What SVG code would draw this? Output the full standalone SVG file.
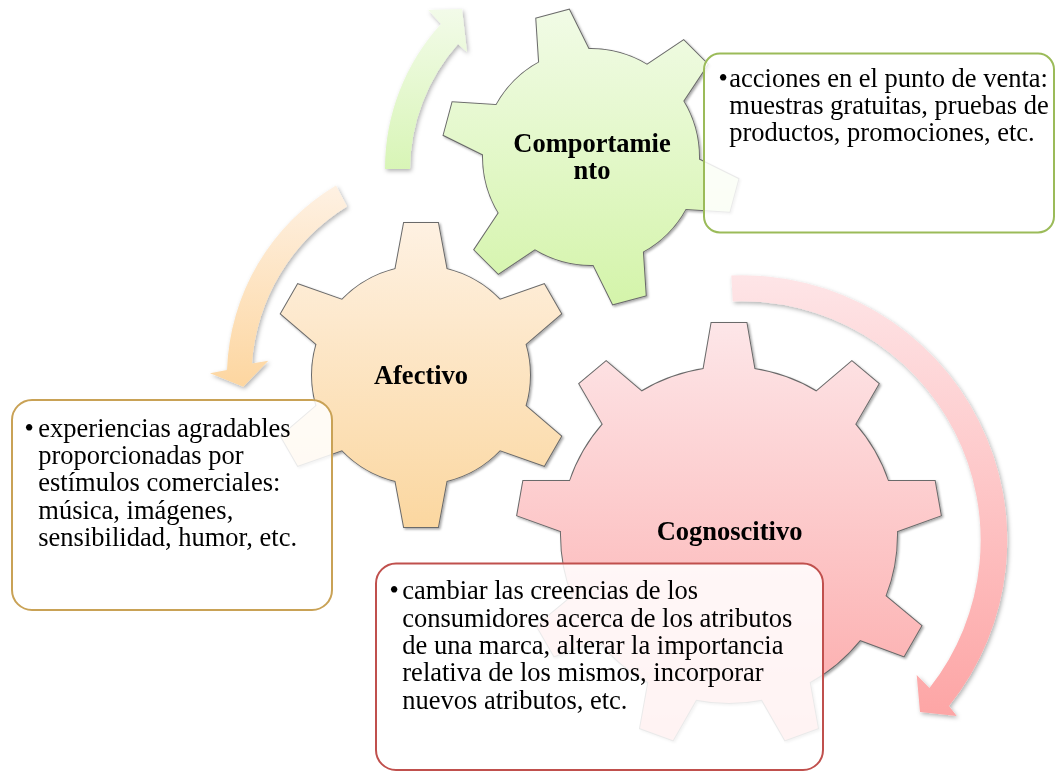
<svg xmlns="http://www.w3.org/2000/svg" xmlns:xlink="http://www.w3.org/1999/xlink" width="1055" height="772" viewBox="0 0 1055 772">
<style>
.lbl{font-family:"Liberation Serif","Times New Roman",serif;font-weight:bold;font-size:26.5px;fill:#000;text-anchor:middle}
.txt{font-family:"Liberation Serif","Times New Roman",serif;font-size:26.5px;fill:#000}
.outline{fill:#6a6a6a;stroke:#6a6a6a;stroke-width:2;filter:url(#gshadow)}
.box{fill:#fff;fill-opacity:0.86;stroke-width:2}
.arrow{filter:url(#ashadow)}
</style>
<defs>
<filter id="gshadow" x="-10%" y="-10%" width="125%" height="125%">
<feDropShadow dx="1.5" dy="1.5" stdDeviation="1.2" flood-color="#000" flood-opacity="0.35"/>
</filter>
<filter id="ashadow" x="-10%" y="-10%" width="125%" height="125%">
<feDropShadow dx="1.5" dy="2" stdDeviation="2" flood-color="#000" flood-opacity="0.3"/>
</filter>
<polygon id="tG" points="-26.6,-100 -17,-148 17,-148 26.6,-100"/>
<polygon id="tO" points="-26.5,-101 -17,-152 17,-152 26.5,-101"/>
<polygon id="tP" points="-26.5,-160 -17.5,-212 17.5,-212 26.5,-160"/>
<linearGradient id="gG" gradientUnits="userSpaceOnUse" x1="0" y1="9" x2="0" y2="305">
<stop offset="0" stop-color="#f1fbe6"/><stop offset="1" stop-color="#d4f4aa"/></linearGradient>
<linearGradient id="gO" gradientUnits="userSpaceOnUse" x1="0" y1="223" x2="0" y2="527">
<stop offset="0" stop-color="#fef1e2"/><stop offset="1" stop-color="#fbd7a0"/></linearGradient>
<linearGradient id="gP" gradientUnits="userSpaceOnUse" x1="0" y1="323" x2="0" y2="747">
<stop offset="0" stop-color="#fde6e8"/><stop offset="1" stop-color="#fca8a8"/></linearGradient>
<linearGradient id="aG" gradientUnits="userSpaceOnUse" x1="0" y1="5" x2="0" y2="170">
<stop offset="0" stop-color="#f3fbea"/><stop offset="1" stop-color="#d8f5b6"/></linearGradient>
<linearGradient id="aO" gradientUnits="userSpaceOnUse" x1="0" y1="185" x2="0" y2="387">
<stop offset="0" stop-color="#fef1e3"/><stop offset="1" stop-color="#fdd6a0"/></linearGradient>
<linearGradient id="aP" gradientUnits="userSpaceOnUse" x1="0" y1="275" x2="0" y2="717">
<stop offset="0" stop-color="#fee5e7"/><stop offset="1" stop-color="#fda5a5"/></linearGradient>
<clipPath id="cpG">
<circle cx="591" cy="157" r="108"/>
<use xlink:href="#tG" transform="translate(591 157) rotate(-15)"/>
<use xlink:href="#tG" transform="translate(591 157) rotate(45)"/>
<use xlink:href="#tG" transform="translate(591 157) rotate(105)"/>
<use xlink:href="#tG" transform="translate(591 157) rotate(165)"/>
<use xlink:href="#tG" transform="translate(591 157) rotate(225)"/>
<use xlink:href="#tG" transform="translate(591 157) rotate(285)"/>
</clipPath>
<clipPath id="cpO">
<circle cx="421" cy="375" r="109"/>
<use xlink:href="#tO" transform="translate(421 375) rotate(0)"/>
<use xlink:href="#tO" transform="translate(421 375) rotate(60)"/>
<use xlink:href="#tO" transform="translate(421 375) rotate(120)"/>
<use xlink:href="#tO" transform="translate(421 375) rotate(180)"/>
<use xlink:href="#tO" transform="translate(421 375) rotate(240)"/>
<use xlink:href="#tO" transform="translate(421 375) rotate(300)"/>
</clipPath>
<clipPath id="cpP">
<circle cx="729" cy="535" r="168"/>
<use xlink:href="#tP" transform="translate(729 535) rotate(0)"/>
<use xlink:href="#tP" transform="translate(729 535) rotate(40)"/>
<use xlink:href="#tP" transform="translate(729 535) rotate(80)"/>
<use xlink:href="#tP" transform="translate(729 535) rotate(120)"/>
<use xlink:href="#tP" transform="translate(729 535) rotate(160)"/>
<use xlink:href="#tP" transform="translate(729 535) rotate(200)"/>
<use xlink:href="#tP" transform="translate(729 535) rotate(240)"/>
<use xlink:href="#tP" transform="translate(729 535) rotate(280)"/>
<use xlink:href="#tP" transform="translate(729 535) rotate(320)"/>
</clipPath>
</defs>
<rect width="1055" height="772" fill="#fff"/>

<g id="node-cognoscitivo">
<g class="outline" transform="translate(729 535)">
<circle r="168"/>
<use xlink:href="#tP" transform="rotate(0)"/><use xlink:href="#tP" transform="rotate(40)"/><use xlink:href="#tP" transform="rotate(80)"/>
<use xlink:href="#tP" transform="rotate(120)"/><use xlink:href="#tP" transform="rotate(160)"/><use xlink:href="#tP" transform="rotate(200)"/>
<use xlink:href="#tP" transform="rotate(240)"/><use xlink:href="#tP" transform="rotate(280)"/><use xlink:href="#tP" transform="rotate(320)"/>
</g>
<rect x="500" y="310" width="460" height="450" fill="url(#gP)" clip-path="url(#cpP)"/>
<text class="lbl" x="729.5" y="540">Cognoscitivo</text>
</g>

<g id="node-afectivo">
<g class="outline" transform="translate(421 375)">
<circle r="109"/>
<use xlink:href="#tO" transform="rotate(0)"/><use xlink:href="#tO" transform="rotate(60)"/><use xlink:href="#tO" transform="rotate(120)"/>
<use xlink:href="#tO" transform="rotate(180)"/><use xlink:href="#tO" transform="rotate(240)"/><use xlink:href="#tO" transform="rotate(300)"/>
</g>
<rect x="260" y="215" width="320" height="320" fill="url(#gO)" clip-path="url(#cpO)"/>
<text class="lbl" x="421" y="384">Afectivo</text>
</g>

<g id="node-comportamiento">
<g class="outline" transform="translate(591 157)">
<circle r="108"/>
<use xlink:href="#tG" transform="rotate(-15)"/><use xlink:href="#tG" transform="rotate(45)"/><use xlink:href="#tG" transform="rotate(105)"/>
<use xlink:href="#tG" transform="rotate(165)"/><use xlink:href="#tG" transform="rotate(225)"/><use xlink:href="#tG" transform="rotate(285)"/>
</g>
<rect x="435" y="0" width="320" height="315" fill="url(#gG)" clip-path="url(#cpG)"/>
<text class="lbl" x="592" y="151.7">Comportamie</text>
<text class="lbl" x="592" y="179">nto</text>
</g>

<g id="connectors">
<path class="arrow" fill="url(#aG)" d="M385,169 A215,215 0 0 1 441,24 L428.3,10 L462,9 L467,52 L458,44 A191,191 0 0 0 410,169 Z"/>
<path class="arrow" fill="url(#aO)" d="M336,185.5 A224,224 0 0 0 227,370 L210,373.3 L243.3,386.7 L268.3,360.7 L252,363.5 A200.5,200.5 0 0 1 347,206.5 Z"/>
<path class="arrow" fill="url(#aP)" d="M731.3,275.5 A265,265 0 0 1 949,706 L956.7,716 L920,712 L916.7,675 L929.5,688 A239,239 0 0 0 732.8,301.4 Z"/>
</g>

<g id="box-comportamiento">
<rect class="box" x="704" y="53.5" width="350" height="179" rx="16" stroke="#9bbb59"/>
<text class="txt" x="718.5" y="86.5">•</text>
<text class="txt"><tspan x="729.3" y="86.5">acciones en el punto de venta:</tspan><tspan x="729.3" y="113.8">muestras gratuitas, pruebas de</tspan><tspan x="729.3" y="141.1">productos, promociones, etc.</tspan></text>
</g>

<g id="box-afectivo">
<rect class="box" x="12" y="400" width="320" height="210" rx="20" stroke="#c9a256"/>
<text class="txt" x="24.5" y="436.7">•</text>
<text class="txt"><tspan x="38.3" y="436.7">experiencias agradables</tspan><tspan x="38.3" y="464">proporcionadas por</tspan><tspan x="38.3" y="491.3">estímulos comerciales:</tspan><tspan x="38.3" y="518.6">música, imágenes,</tspan><tspan x="38.3" y="546">sensibilidad, humor, etc.</tspan></text>
</g>

<g id="box-cognoscitivo">
<rect class="box" x="376" y="563.5" width="447" height="206.5" rx="20" stroke="#c0504d"/>
<text class="txt" x="389.5" y="599.3">•</text>
<text class="txt"><tspan x="402.3" y="599.3">cambiar las creencias de los</tspan><tspan x="402.3" y="626.6">consumidores acerca de los atributos</tspan><tspan x="402.3" y="653.9">de una marca, alterar la importancia</tspan><tspan x="402.3" y="681.2">relativa de los mismos, incorporar</tspan><tspan x="402.3" y="708.5">nuevos atributos, etc.</tspan></text>
</g>
</svg>
